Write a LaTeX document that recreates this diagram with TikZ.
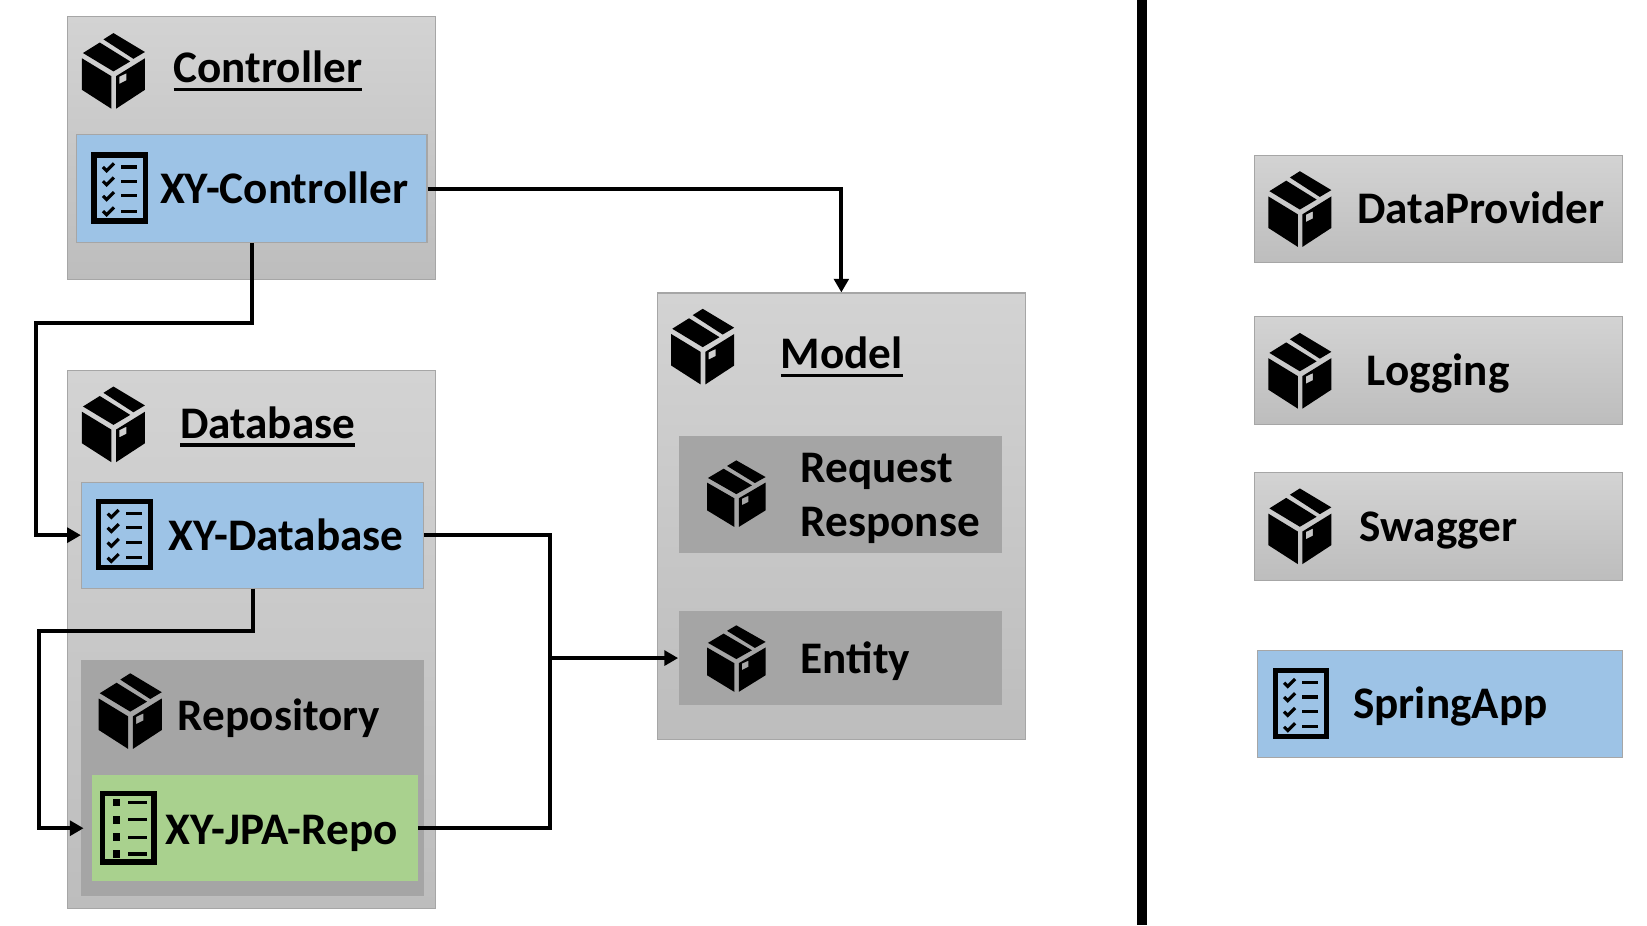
\documentclass[tikz,border=0pt]{standalone}
\usepackage{fontspec}
\setmainfont{Carlito}
\usetikzlibrary{arrows.meta,calc}

\definecolor{pkgtop}{HTML}{D3D3D3}
\definecolor{pkgbot}{HTML}{BDBDBD}
\definecolor{pkgline}{HTML}{A6A6A6}
\definecolor{subgray}{HTML}{A5A5A5}
\definecolor{classblue}{HTML}{9DC3E6}
\definecolor{repogreen}{HTML}{A9D18E}

\newcommand{\ulbl}[1]{\leavevmode\vtop{\hbox{#1}\kern 2.4pt\hrule height 1.5pt}}

\tikzset{
  pkgbox/.style={draw=pkgline,line width=.6pt,top color=pkgtop,bottom color=pkgbot,inner sep=0},
  subbox/.style={fill=subgray,inner sep=0},
  classbox/.style={draw=pkgline,line width=.5pt,fill=classblue,inner sep=0},
  repobox/.style={fill=repogreen,inner sep=0},
  lbl/.style={anchor=base west,inner sep=0,font=\bfseries\fontsize{21.5}{24}\selectfont},
  conn/.style={line width=1.9pt,line join=miter},
  pics/pkgicon/.style={code={
    \fill (-30,-12) -- (-2,5) -- (-2,36) -- (-30,18) -- cycle;
    \fill[even odd rule] (2.5,5) -- (30,-12) -- (30,18) -- (2.5,36) -- cycle
      (5.7,5.4) -- (12.4,2.2) -- (12.4,9) -- (5.7,12.4) -- cycle;
    \fill (-29,-17) -- (-13,-27) -- (16,-9) -- (0,.5) -- cycle;
    \fill (-9.5,-30) -- (0,-36) -- (30,-18) -- (19,-11.5) -- cycle;
  }},
  pics/checklist/.style={code={
    \draw[line width=2.5pt] (-24.5,-31.5) rectangle (24.5,31.5);
    \foreach \r in {-20,-6.5,7.5,22} {
      \draw[line width=1.5pt] (-16,\r) -- ++(3.5,3.5) -- ++(7,-7);
      \draw[line width=1.5pt] (1.5,\r) -- ++(15,0);
    }
  }},
  pics/dotlist/.style={code={
    \draw[line width=2.7pt] (-24.5,-32.5) rectangle (24.5,32.5);
    \foreach \r in {-24,-7.5,9,25} {
      \fill (-14.5,\r-3.5) rectangle ++(7,7);
      \draw[line width=1.5pt] (0,\r) -- ++(18,0);
    }
  }}
}

\begin{document}
\begin{tikzpicture}[x=.5pt,y=-.5pt,>={Triangle[length=6.5pt,width=7pt]}]

  \useasboundingbox (0,0) rectangle (1568,881);

  % left column
  \node[pkgbox,minimum width=175pt,minimum height=125pt] (controller) at (239.5,141) {};
  \node[classbox,minimum width=167pt,minimum height=51.5pt] (xyctrl) at (239.5,179.5) {};
  \node[pkgbox,minimum width=175pt,minimum height=256pt] (database) at (239.5,609) {};
  \node[classbox,minimum width=163pt,minimum height=50.5pt] (xydb) at (240.5,509.5) {};
  \node[subbox,minimum width=163pt,minimum height=112.5pt] (repo) at (240.5,740.5) {};
  \node[repobox,minimum width=155pt,minimum height=50.5pt] (xyrepo) at (243,788.5) {};

  % model
  \node[pkgbox,minimum width=175pt,minimum height=212.5pt] (model) at (801,491.5) {};
  \node[subbox,minimum width=154pt,minimum height=55.5pt] (reqres) at (800,470.5) {};
  \node[subbox,minimum width=154pt,minimum height=44.5pt] (entity) at (800,626.5) {};

  % right column
  \node[pkgbox,minimum width=175pt,minimum height=51pt] (dataprov) at (1369.5,199) {};
  \node[pkgbox,minimum width=175pt,minimum height=51.5pt] (logging) at (1369.5,352.5) {};
  \node[pkgbox,minimum width=175pt,minimum height=51.5pt] (swagger) at (1369.5,501.5) {};
  \node[classbox,minimum width=173.5pt,minimum height=51pt] (springapp) at (1371,670) {};

  \fill[black] (1082.5,0) rectangle (1092,881);

  \pic at (108,67.5) {pkgicon};
  \pic at (108,404) {pkgicon};
  \pic at (124,677) {pkgicon};
  \pic at (669,330) {pkgicon};
  \pic[xscale=.93,yscale=.88] at (701,470) {pkgicon};
  \pic[xscale=.93,yscale=.88] at (701,627) {pkgicon};
  \pic at (1237.5,199) {pkgicon};
  \pic at (1237.5,353) {pkgicon};
  \pic at (1237.5,501) {pkgicon};

  \pic at (114,179) {checklist};
  \pic at (118.5,509) {checklist};
  \pic at (1238.5,670) {checklist};
  \pic at (122,788) {dotlist};

  \node[lbl] (ctrllbl) at (165,79) {\ulbl{Controller}};
  \node[lbl] (dblbl) at (171,417) {\ulbl{Database}};
  \node[lbl] (modellbl) at (743,351) {\ulbl{Model}};
  \node[lbl] (xyctrllbl) at (152,194) {XY-Controller};
  \node[lbl] (xydblbl) at (160,524) {XY-Database};
  \node[lbl] (repolbl) at (169,695) {Repository};
  \node[lbl] (xyrepolbl) at (157,804) {XY-JPA-Repo};
  \node[lbl] (reqlbl) at (762,459) {Request};
  \node[lbl] (reslbl) at (762,511) {Response};
  \node[lbl] (entitylbl) at (762,641) {Entity};
  \node[lbl] (dplbl) at (1292,213) {DataProvider};
  \node[lbl] (loglbl) at (1301,367) {Logging};
  \node[lbl] (swaglbl) at (1294,516) {Swagger};
  \node[lbl] (applbl) at (1288,684) {SpringApp};

  \coordinate (bendA) at (34,307.5);
  \coordinate (bendB) at (37,601);
  \coordinate (join) at (524,626.5);

  \draw[conn,->] (xyctrl.east) -| (model.north);
  \draw[conn,->] (xyctrl.south) |- (bendA) |- (xydb.west);
  \draw[conn,->,shorten >=4pt] (xydb.south) |- (bendB) |- (xyrepo.west);
  \draw[conn] (xydb.east) -| (join);
  \draw[conn] (xyrepo.east) -| (join);
  \draw[conn,->] (join) -- (entity.west);

\end{tikzpicture}
\end{document}
